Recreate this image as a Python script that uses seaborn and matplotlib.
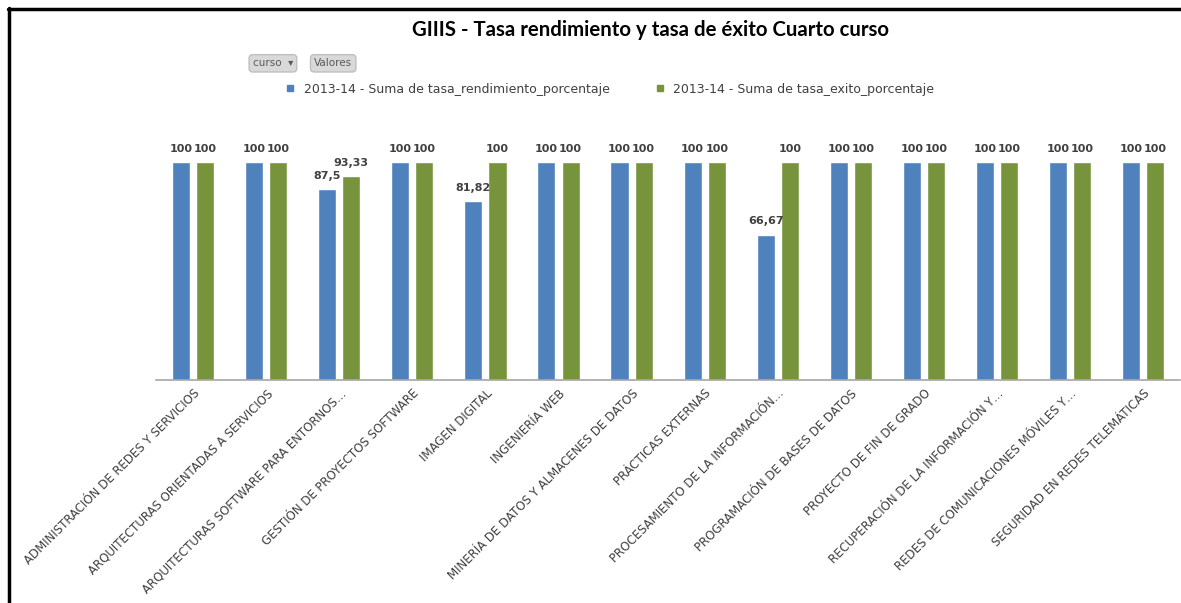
import pandas as pd
import seaborn as sns
import matplotlib.pyplot as plt
from matplotlib.lines import Line2D

plt.switch_backend('agg')

# Data
asignaturas = [
    "ADMINISTRACIÓN DE REDES Y SERVICIOS",
    "ARQUITECTURAS ORIENTADAS A SERVICIOS",
    "ARQUITECTURAS SOFTWARE PARA ENTORNOS…",
    "GESTIÓN DE PROYECTOS SOFTWARE",
    "IMAGEN DIGITAL",
    "INGENIERÍA WEB",
    "MINERÍA DE DATOS Y ALMACENES DE DATOS",
    "PRÁCTICAS EXTERNAS",
    "PROCESAMIENTO DE LA INFORMACIÓN…",
    "PROGRAMACIÓN DE BASES DE DATOS",
    "PROYECTO DE FIN DE GRADO",
    "RECUPERACIÓN DE LA INFORMACIÓN Y…",
    "REDES DE COMUNICACIONES MÓVILES Y…",
    "SEGURIDAD EN REDES TELEMÁTICAS",
]
tasa_rendimiento = [100, 100, 87.5, 100, 81.82, 100, 100, 100, 66.67, 100, 100, 100, 100, 100]
tasa_exito = [100, 100, 93.33, 100, 100, 100, 100, 100, 100, 100, 100, 100, 100, 100]
series = ["2013-14 - Suma de tasa_rendimiento_porcentaje",
          "2013-14 - Suma de tasa_exito_porcentaje"]
colors = ["#4F81BD", "#77933C"]

df = pd.DataFrame({
    "asignatura": asignaturas * 2,
    "valor": tasa_rendimiento + tasa_exito,
    "serie": [series[0]] * len(asignaturas) + [series[1]] * len(asignaturas),
})

sns.set_style("white")
plt.rcParams['font.family'] = ['DejaVu Sans']

fig = plt.figure(figsize=(11.81, 6.03), dpi=100)
ax = fig.add_axes([0.1325, 0.3698, 0.8665, 0.398])

sns.barplot(data=df, x="asignatura", y="valor", hue="serie", hue_order=series,
            palette=colors, width=0.66, gap=0.25, saturation=1, ax=ax, legend=False)

ax.set_ylim(0, 110)
ax.set_xlim(-0.5, len(asignaturas) - 0.5)
ax.set_xlabel("")
ax.set_ylabel("")
ax.set_yticks([])
for side in ["top", "left", "right"]:
    ax.spines[side].set_visible(False)
ax.spines["bottom"].set_color("#A6A6A6")
ax.spines["bottom"].set_linewidth(1.2)
ax.tick_params(axis="x", length=0, pad=5)
ax.set_xticks(range(len(asignaturas)))
ax.set_xticklabels(asignaturas, rotation=45, ha="right", rotation_mode="anchor",
                   fontsize=8.5, color="#404040")

# data labels with comma decimals
for cont, vals in zip(ax.containers, [tasa_rendimiento, tasa_exito]):
    labels = [f"{v:g}".replace(".", ",") for v in vals]
    ax.bar_label(cont, labels=labels, padding=6, fontsize=8, color="#404040",
                 fontweight="bold")

fig.text(0.551, 0.95, "GIIIS - Tasa rendimiento y tasa de éxito Cuarto curso",
         ha="center", va="center", fontsize=14.7, fontweight="bold", color="black",
         family=["Lato", "DejaVu Sans"])

# pivot field buttons
fig.text(0.214, 0.895, "curso  ▾", ha="left", va="center", fontsize=7.5, color="#595959",
         bbox=dict(boxstyle="round,pad=0.35", facecolor="#D9D9D9", edgecolor="#BFBFBF"))
fig.text(0.266, 0.895, "Valores", ha="left", va="center", fontsize=7.5, color="#595959",
         bbox=dict(boxstyle="round,pad=0.35", facecolor="#D9D9D9", edgecolor="#BFBFBF"))

handles = [Line2D([0], [0], marker="s", linestyle="", markersize=5,
                  markerfacecolor=c, markeredgecolor=c) for c in colors]
fig.legend(handles, series, loc="center", bbox_to_anchor=(0.513, 0.852), ncol=2,
           frameon=False, fontsize=9, handletextpad=0.1, columnspacing=3.0,
           labelcolor="#404040")

# border lines of the screenshot
fig.add_artist(Line2D([8 / 1181, 1], [1 - 9 / 603, 1 - 9 / 603], color="black", linewidth=2.5,
                      transform=fig.transFigure))
fig.add_artist(Line2D([9 / 1181, 9 / 1181], [0, 1 - 8 / 603], color="black", linewidth=2.5,
                      transform=fig.transFigure))

fig.savefig("out.png", dpi=100)
